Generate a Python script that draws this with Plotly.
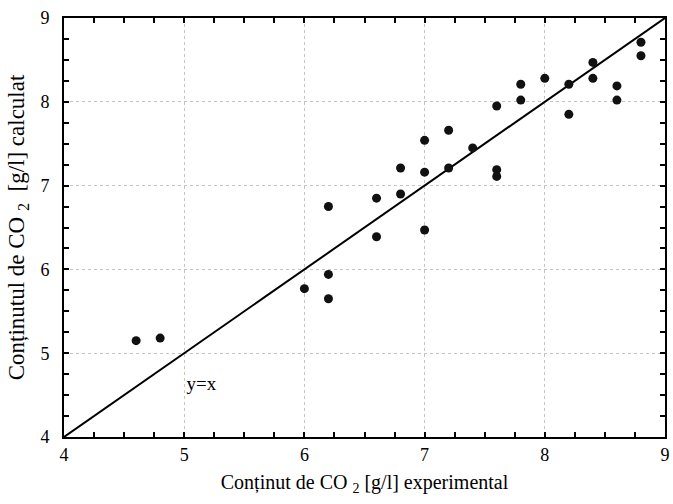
import plotly.graph_objects as go

# Experimental vs. calculated CO2 content [g/l]
experimental = [4.6, 4.8, 6.0, 6.2, 6.2, 6.2, 6.6, 6.6, 6.8, 6.8,
                7.0, 7.0, 7.0, 7.2, 7.2, 7.4, 7.6, 7.6, 7.6, 7.8,
                7.8, 8.0, 8.2, 8.2, 8.4, 8.4, 8.6, 8.6, 8.8, 8.8]
calculated = [5.15, 5.18, 5.77, 5.94, 5.65, 6.75, 6.85, 6.39, 7.21, 6.90,
              7.54, 7.16, 6.47, 7.66, 7.21, 7.45, 7.95, 7.19, 7.11, 8.21,
              8.02, 8.28, 8.21, 7.85, 8.47, 8.28, 8.19, 8.02, 8.71, 8.55]

axis_range = [4, 9]
identity_line = [4, 9]
line_label = "y=x"
line_label_pos = (5.02, 4.62)

FONT = "Liberation Serif, Times New Roman, serif"

fig = go.Figure()

# Reference line y = x
fig.add_trace(go.Scatter(
    x=identity_line, y=identity_line, mode="lines",
    line=dict(color="black", width=2), hoverinfo="skip", showlegend=False,
))

# Data points
fig.add_trace(go.Scatter(
    x=experimental, y=calculated, mode="markers",
    marker=dict(color="#111111", size=9), showlegend=False,
))

# Label of the reference line
fig.add_trace(go.Scatter(
    x=[line_label_pos[0]], y=[line_label_pos[1]], mode="text",
    text=[line_label], textposition="middle right",
    textfont=dict(family=FONT, size=19, color="black"),
    hoverinfo="skip", showlegend=False,
))

# Empty trace that carries the top/right tick axes
fig.add_trace(go.Scatter(
    x=identity_line, y=identity_line, xaxis="x2", yaxis="y2", mode="none",
    hoverinfo="skip", showlegend=False,
))

tick_style = dict(ticks="inside", ticklen=5, tickwidth=1.5, tickcolor="black")

axis_common = dict(
    range=axis_range, tickmode="linear", tick0=4, dtick=1, **tick_style,
    minor=dict(dtick=0.25, tick0=4, showgrid=False, **tick_style),
    showline=True, linecolor="black", linewidth=2, mirror=True,
    showgrid=True, gridcolor="#c4c4c4", griddash="dot", gridwidth=1,
    zeroline=False, tickfont=dict(family=FONT, size=18, color="black"),
)

# Quarter-step inward ticks for the top and right edges
edge_axis = dict(
    range=axis_range, dtick=0.25, showgrid=False, showticklabels=False,
    zeroline=False, **tick_style,
)

fig.update_layout(
    width=673, height=504,
    margin=dict(l=64, r=3, t=18, b=67),
    plot_bgcolor="white", paper_bgcolor="white",
    xaxis=dict(axis_common, title=dict(
        text="Conținut de CO <sub>2</sub> [g/l] experimental",
        font=dict(family=FONT, size=20, color="black"), standoff=11)),
    yaxis=dict(axis_common, ticksuffix="\u2002", title=dict(
        text="Conținutul de CO <sub>2</sub>  [g/l] calculat",
        font=dict(family=FONT, size=23, color="black"), standoff=9)),
    xaxis2=dict(edge_axis, overlaying="x", side="top", anchor="y2"),
    yaxis2=dict(edge_axis, overlaying="y", side="right", anchor="x2"),
)

fig.write_html("out.html")
